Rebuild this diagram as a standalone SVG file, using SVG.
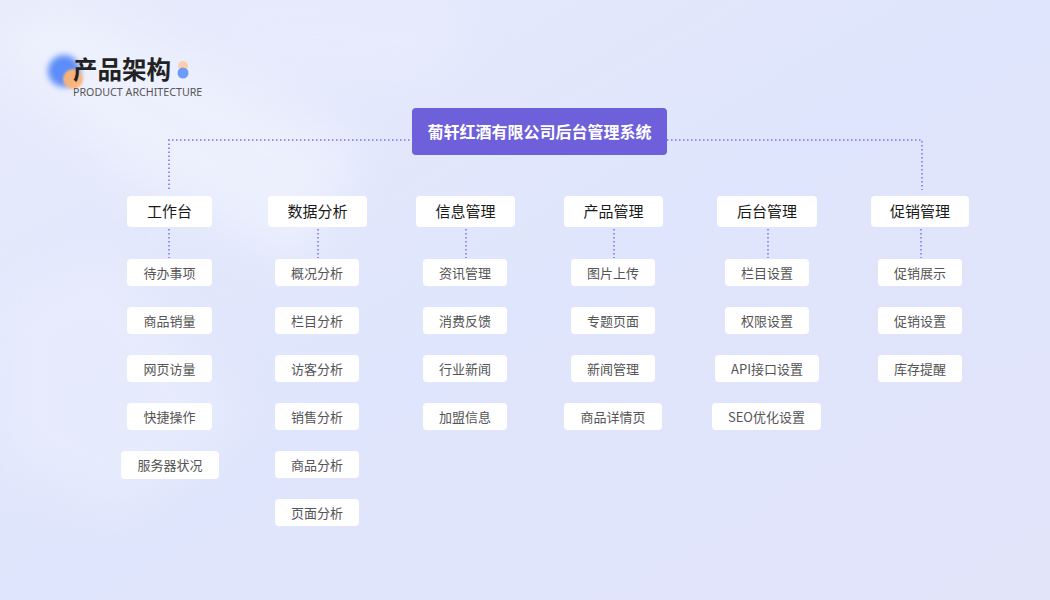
<svg xmlns="http://www.w3.org/2000/svg" width="1050" height="600" viewBox="0 0 1050 600">
<defs>
<linearGradient id="bg" x1="0" y1="0" x2="1" y2="1">
<stop offset="0" stop-color="#E7EBFB"/>
<stop offset="0.5" stop-color="#DFE5FC"/>
<stop offset="1" stop-color="#E2E4FA"/>
</linearGradient>
<filter id="blur40" x="-50%" y="-50%" width="200%" height="200%"><feGaussianBlur stdDeviation="22"/></filter>
<filter id="blur4" x="-50%" y="-50%" width="200%" height="200%"><feGaussianBlur stdDeviation="3"/></filter>
<filter id="blur1" x="-50%" y="-50%" width="200%" height="200%"><feGaussianBlur stdDeviation="1"/></filter>
<style>
.l1 rect{fill:#FFFFFF;}
.l1 text{font-family:"Noto Sans CJK SC","Noto Sans",sans-serif;font-size:15px;fill:#1A1A1A;text-anchor:middle;font-weight:400;}
.l2 rect{fill:#FFFFFF;}
.l2 text{font-family:"Noto Sans CJK SC","Noto Sans",sans-serif;font-size:13px;fill:#555555;text-anchor:middle;}
.conn path{fill:none;stroke:#968BF2;stroke-width:2;stroke-dasharray:1.5 2.5;}
</style>
</defs>
<rect width="1050" height="600" fill="url(#bg)"/>
<g opacity="0.6" filter="url(#blur40)">
<path d="M-20 40 L60 0 L200 60 L360 150 L300 260 L120 170 Z" fill="#F3F5FE"/>
<path d="M0 300 L110 250 L250 420 L120 520 L0 460 Z" fill="#E9EDFD"/>
<path d="M200 0 L470 0 L450 80 L260 90 Z" fill="#E8ECFD"/>
</g>
<g id="logo">
<circle cx="64" cy="71" r="16" fill="#5B8CF7" filter="url(#blur4)"/>
<circle cx="73" cy="79" r="10" fill="#FFB477" filter="url(#blur1)" opacity="0.95"/>
<text x="73" y="79" font-family="'Noto Sans CJK SC',sans-serif" font-size="24.5" font-weight="700" fill="#222222">产品架构</text>
<text x="73" y="96" font-family="'Noto Sans','Liberation Sans',sans-serif" font-size="10.7" fill="#555555">PRODUCT ARCHITECTURE</text>
<circle cx="183" cy="66" r="5" fill="#FBCFAE"/>
<circle cx="183" cy="73" r="5.5" fill="#6D9BF8"/>
</g>
<g id="connectors" class="conn">
<path d="M169 189 V140 H412"/>
<path d="M667 140 H922 V190"/>
<path d="M169 229 V258"/>
<path d="M318 229 V258"/>
<path d="M466 229 V258"/>
<path d="M614 229 V258"/>
<path d="M768 229 V258"/>
<path d="M921 229 V258"/>
</g>
<g id="root">
<rect x="412" y="108" width="255" height="47" rx="4" fill="#6E5FDB"/>
<text x="539.5" y="138" font-family="'Noto Sans CJK SC',sans-serif" font-size="16" font-weight="700" fill="#FFFFFF" text-anchor="middle">葡轩红酒有限公司后台管理系统</text>
</g>
<g id="n-gzt" class="l1"><rect x="127" y="196" width="85" height="31" rx="4"/><text x="169.5" y="217">工作台</text></g>
<g id="n-sjfx" class="l1"><rect x="268" y="196" width="99" height="31" rx="4"/><text x="317.5" y="217">数据分析</text></g>
<g id="n-xxgl" class="l1"><rect x="416" y="196" width="99" height="31" rx="4"/><text x="465.5" y="217">信息管理</text></g>
<g id="n-cpgl" class="l1"><rect x="564" y="196" width="99" height="31" rx="4"/><text x="613.5" y="217">产品管理</text></g>
<g id="n-htgl" class="l1"><rect x="717" y="196" width="100" height="31" rx="4"/><text x="767" y="217">后台管理</text></g>
<g id="n-cxgl" class="l1"><rect x="871" y="196" width="98" height="31" rx="4"/><text x="920" y="217">促销管理</text></g>

<g id="c-1-1" class="l2"><rect x="127" y="259" width="85" height="27" rx="4"/><text x="169.5" y="277.5">待办事项</text></g>
<g id="c-1-2" class="l2"><rect x="127" y="307" width="85" height="27" rx="4"/><text x="169.5" y="325.5">商品销量</text></g>
<g id="c-1-3" class="l2"><rect x="127" y="355" width="85" height="27" rx="4"/><text x="169.5" y="373.5">网页访量</text></g>
<g id="c-1-4" class="l2"><rect x="127" y="403" width="85" height="27" rx="4"/><text x="169.5" y="421.5">快捷操作</text></g>
<g id="c-1-5" class="l2"><rect x="121" y="451" width="98" height="28" rx="4"/><text x="170" y="469.5">服务器状况</text></g>

<g id="c-2-1" class="l2"><rect x="275" y="259" width="84" height="27" rx="4"/><text x="317" y="277.5">概况分析</text></g>
<g id="c-2-2" class="l2"><rect x="275" y="307" width="84" height="27" rx="4"/><text x="317" y="325.5">栏目分析</text></g>
<g id="c-2-3" class="l2"><rect x="275" y="355" width="84" height="27" rx="4"/><text x="317" y="373.5">访客分析</text></g>
<g id="c-2-4" class="l2"><rect x="275" y="403" width="84" height="27" rx="4"/><text x="317" y="421.5">销售分析</text></g>
<g id="c-2-5" class="l2"><rect x="275" y="451" width="84" height="27" rx="4"/><text x="317" y="469.5">商品分析</text></g>
<g id="c-2-6" class="l2"><rect x="275" y="499" width="84" height="27" rx="4"/><text x="317" y="517.5">页面分析</text></g>

<g id="c-3-1" class="l2"><rect x="423" y="259" width="84" height="27" rx="4"/><text x="465" y="277.5">资讯管理</text></g>
<g id="c-3-2" class="l2"><rect x="423" y="307" width="84" height="27" rx="4"/><text x="465" y="325.5">消费反馈</text></g>
<g id="c-3-3" class="l2"><rect x="423" y="355" width="84" height="27" rx="4"/><text x="465" y="373.5">行业新闻</text></g>
<g id="c-3-4" class="l2"><rect x="423" y="403" width="84" height="27" rx="4"/><text x="465" y="421.5">加盟信息</text></g>

<g id="c-4-1" class="l2"><rect x="571" y="259" width="84" height="27" rx="4"/><text x="613" y="277.5">图片上传</text></g>
<g id="c-4-2" class="l2"><rect x="571" y="307" width="84" height="27" rx="4"/><text x="613" y="325.5">专题页面</text></g>
<g id="c-4-3" class="l2"><rect x="571" y="355" width="84" height="27" rx="4"/><text x="613" y="373.5">新闻管理</text></g>
<g id="c-4-4" class="l2"><rect x="564" y="403" width="98" height="27" rx="4"/><text x="613" y="421.5">商品详情页</text></g>

<g id="c-5-1" class="l2"><rect x="725" y="259" width="84" height="27" rx="4"/><text x="767" y="277.5">栏目设置</text></g>
<g id="c-5-2" class="l2"><rect x="725" y="307" width="84" height="27" rx="4"/><text x="767" y="325.5">权限设置</text></g>
<g id="c-5-3" class="l2"><rect x="715" y="355" width="104" height="27" rx="4"/><text x="767" y="373.5">API接口设置</text></g>
<g id="c-5-4" class="l2"><rect x="712" y="403" width="109" height="27" rx="4"/><text x="766.5" y="421.5">SEO优化设置</text></g>

<g id="c-6-1" class="l2"><rect x="878" y="259" width="84" height="27" rx="4"/><text x="920" y="277.5">促销展示</text></g>
<g id="c-6-2" class="l2"><rect x="878" y="307" width="84" height="27" rx="4"/><text x="920" y="325.5">促销设置</text></g>
<g id="c-6-3" class="l2"><rect x="878" y="355" width="84" height="27" rx="4"/><text x="920" y="373.5">库存提醒</text></g>
</svg>
